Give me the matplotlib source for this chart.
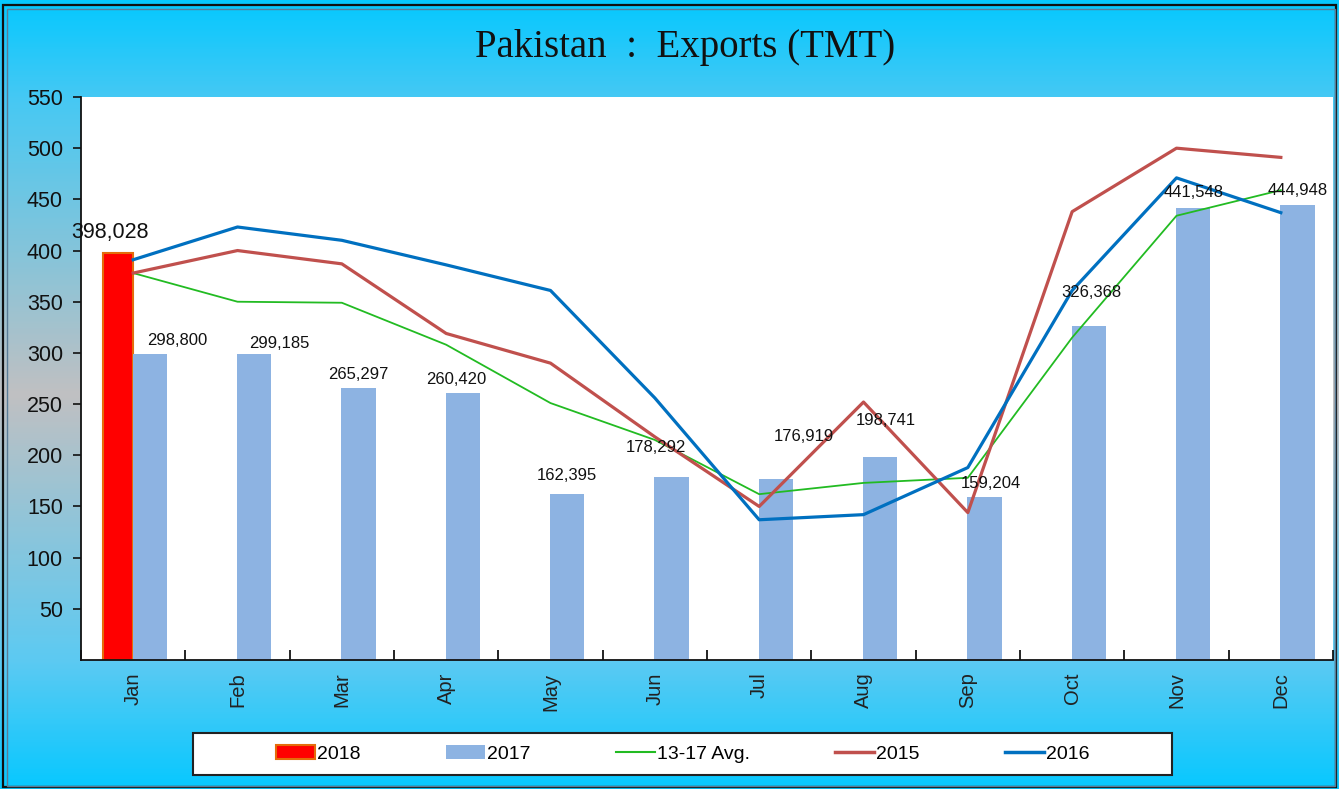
"""Pakistan exports (TMT) monthly chart."""

import numpy as np
import matplotlib
matplotlib.use("Agg")
import matplotlib.pyplot as plt
from matplotlib.colors import LinearSegmentedColormap
from matplotlib.patches import Rectangle, Patch
from matplotlib.lines import Line2D

months = ["Jan", "Feb", "Mar", "Apr", "May", "Jun",
          "Jul", "Aug", "Sep", "Oct", "Nov", "Dec"]
exports_2018 = [398.028]
exports_2017 = [298.800, 299.185, 265.297, 260.420, 162.395, 178.292,
                176.919, 198.741, 159.204, 326.368, 441.548, 444.948]
avg_13_17 = [378, 350, 349, 308, 251, 215, 162, 173, 178, 315, 434, 459]
exports_2015 = [378, 400, 387, 319, 290, 218, 150, 252, 144, 438, 500, 491]
exports_2016 = [391, 423, 410, 386, 361, 256, 137, 142, 188, 361, 471, 437]

# label nudges in pixels (dx, dy) relative to bar top
label_nudge_2017 = [(27, 14), (25, 10), (0, 14), (-7, 14), (0, 18), (-16, 30),
                    (28, 42), (6, 36), (6, 14), (3, 33), (0, 16), (0, 14)]

plt.rcParams["font.family"] = ["Liberation Sans", "DejaVu Sans"]
PX = 0.72  # points per pixel at dpi 100

fig = plt.figure(figsize=(13.39, 7.89), dpi=100)

# background gradient: cyan at top/bottom, grey in the middle
bg = fig.add_axes([0, 0, 1, 1], zorder=-5)
cmap = LinearSegmentedColormap.from_list(
    "bg", [(0.0, "#06c8ff"), (0.12, "#45c9f4"), (0.5, "#c0c0c2"),
           (0.84, "#5ccaf2"), (1.0, "#08c8ff")])
grad = np.linspace(0, 1, 400).reshape(-1, 1)
bg.imshow(grad, aspect="auto", cmap=cmap, extent=[0, 1, 0, 1], origin="upper")
bg.set_xlim(0, 1)
bg.set_ylim(0, 1)
bg.axis("off")

# outer frame
W, H = 1339, 789
fig.patches.append(Rectangle((3 / W, 2 / H), 1333 / W, 782 / H, transform=fig.transFigure,
                             fill=False, edgecolor="#111111", linewidth=1.6, zorder=10))
fig.patches.append(Rectangle((7 / W, 3 / H), 1328 / W, 777 / H, transform=fig.transFigure,
                             fill=False, edgecolor="#5a7c96", linewidth=1.0, zorder=10))

ax = fig.add_axes([81 / W, 1 - 660 / H, 1252 / W, (660 - 97) / H])
ax.set_facecolor("white")
x = np.arange(len(months))

ax.bar(x[:1] - 0.145, exports_2018, width=0.29, color="#ff0000",
       edgecolor="#e46c0a", linewidth=1.5, zorder=2)
ax.bar(x + 0.16, exports_2017, width=0.33, color="#8db3e2", zorder=2)
ax.plot(x, avg_13_17, color="#22bb22", linewidth=1.3, zorder=3)
ax.plot(x, exports_2015, color="#c0504d", linewidth=2.3, zorder=3)
ax.plot(x, exports_2016, color="#0070c0", linewidth=2.3, zorder=3)

for xi, v, (dx, dy) in zip(x, exports_2017, label_nudge_2017):
    ax.annotate(f"{v * 1000:,.0f}", (xi + 0.16, v), xytext=(dx * PX, dy * PX),
                textcoords="offset points", ha="center", va="center",
                fontsize=12, color="#111111", zorder=5)
ax.annotate(f"{exports_2018[0] * 1000:,.0f}", (x[0] - 0.145, exports_2018[0]),
            xytext=(-8 * PX, 20 * PX), textcoords="offset points",
            ha="center", va="center", fontsize=15.5, color="#111111", zorder=6)

ax.set_xlim(-0.5, len(months) - 0.5)
ax.set_ylim(0, 550)
ax.set_yticks(np.arange(50, 551, 50))
ax.tick_params(axis="y", direction="out", length=6, width=1.2, labelsize=15.5,
               pad=7, colors="#111111")
ax.set_xticks(x)
ax.set_xticklabels(months, rotation=90, fontsize=14.5, color="#222222")
ax.tick_params(axis="x", which="major", length=0, pad=9)
ax.set_xticks(np.arange(-0.5, len(months), 1), minor=True)
ax.tick_params(axis="x", which="minor", direction="in", length=7, width=1.2)

for side in ("top", "right"):
    ax.spines[side].set_visible(False)
for side in ("left", "bottom"):
    ax.spines[side].set_linewidth(1.3)
    ax.spines[side].set_color("#111111")

fig.text(685 / W, 1 - 48 / H, "Pakistan  :  Exports (TMT)", ha="center", va="center",
         fontsize=28, family=["Liberation Serif", "DejaVu Serif"], color="#111111")

# legend box
fig.patches.append(Rectangle((193 / W, 1 - 775 / H), 979 / W, 42 / H, transform=fig.transFigure,
                             facecolor="white", edgecolor="#222222", linewidth=1.5, zorder=4))
handles = [
    Patch(facecolor="#ff0000", edgecolor="#e46c0a", linewidth=1.5),
    Patch(facecolor="#8db3e2", edgecolor="none"),
    Line2D([], [], color="#22bb22", linewidth=1.5),
    Line2D([], [], color="#c0504d", linewidth=2.5),
    Line2D([], [], color="#0070c0", linewidth=2.5),
]
leg = fig.legend(handles, ["2018", "2017", "13-17 Avg.", "2015", "2016"],
                 loc="center", bbox_to_anchor=(683 / W, 1 - 754 / H), ncol=5,
                 frameon=False, fontsize=14, handlelength=2.0, handleheight=0.7,
                 handletextpad=0.1, columnspacing=4.4)
leg.set_zorder(6)

fig.savefig("out.png", dpi=100)
